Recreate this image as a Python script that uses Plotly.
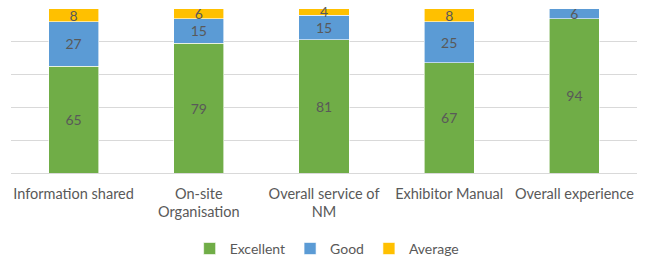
import plotly.graph_objects as go

categories = ["Information shared", "On-site<br>Organisation", "Overall service of<br>NM",
              "Exhibitor Manual", "Overall experience"]
excellent = [65, 79, 81, 67, 94]
good = [27, 15, 15, 25, 6]
average = [8, 6, 4, 8, 0]

series = [("Excellent", excellent, "#70AD47"),
          ("Good", good, "#5B9BD5"),
          ("Average", average, "#FFC000")]

fig = go.Figure()
for name, vals, color in series:
    fig.add_trace(go.Bar(
        name=name, x=categories, y=vals,
        marker=dict(color=color, line=dict(color="white", width=0.6)),
        text=[str(v) if v else "" for v in vals],
        textposition="inside", insidetextanchor="middle", textangle=0,
        textfont=dict(color="#595959", size=14),
        cliponaxis=False,
    ))

fig.update_layout(
    barmode="stack", bargap=0.6,
    width=655, height=257,
    margin=dict(l=11, r=18, t=8, b=84, autoexpand=False),
    paper_bgcolor="white", plot_bgcolor="white",
    font=dict(family="Lato, sans-serif", color="#595959", size=14),
    uniformtext=dict(minsize=14, mode="show"),
    showlegend=True,
    legend=dict(orientation="h", x=0.505, xanchor="center", y=-0.46, yanchor="middle",
                font=dict(size=14, color="#595959"), itemwidth=30, traceorder="normal",
                tracegroupgap=0),
    xaxis=dict(showgrid=False, showline=False, ticks="", ticklabelstandoff=10,
               tickfont=dict(size=14.5, color="#595959")),
    yaxis=dict(range=[0, 100.4], tick0=0, dtick=20, showticklabels=False, showgrid=True,
               gridcolor="#D9D9D9", gridwidth=1, zeroline=True, zerolinecolor="#D9D9D9",
               zerolinewidth=1, showline=False, ticks=""),
)

fig.write_html("out.html", config={"displayModeBar": False},
               post_script="document.body.style.margin='0';")
